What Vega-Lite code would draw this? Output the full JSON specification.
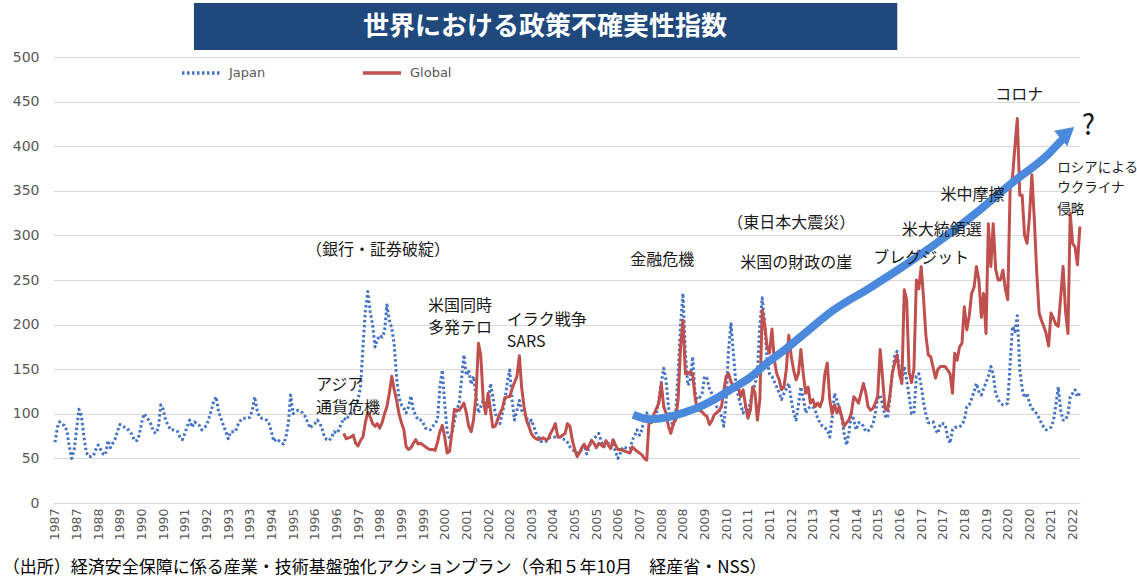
{
  "$schema": "https://vega.github.io/schema/vega-lite/v6.json",
  "width": 1027,
  "height": 446,
  "autosize": {"type": "none"},
  "padding": {"left": 53, "top": 57, "right": 57, "bottom": 79},
  "background": "white",
  "config": {
    "view": {"stroke": null},
    "text": {"font": "Noto Sans CJK JP"}
  },
  "datasets": {
    "epu": [
      {"d":"1987-01","Japan":68},{"d":"1987-02","Japan":85},{"d":"1987-03","Japan":91},{"d":"1987-04","Japan":88},{"d":"1987-05","Japan":87},{"d":"1987-06","Japan":81},{"d":"1987-07","Japan":63},{"d":"1987-08","Japan":50},{"d":"1987-09","Japan":60},{"d":"1987-10","Japan":82},{"d":"1987-11","Japan":105},{"d":"1987-12","Japan":98},
      {"d":"1988-01","Japan":75},{"d":"1988-02","Japan":57},{"d":"1988-03","Japan":52},{"d":"1988-04","Japan":52},{"d":"1988-05","Japan":53},{"d":"1988-06","Japan":60},{"d":"1988-07","Japan":65},{"d":"1988-08","Japan":60},{"d":"1988-09","Japan":55},{"d":"1988-10","Japan":54},{"d":"1988-11","Japan":70},{"d":"1988-12","Japan":62},
      {"d":"1989-01","Japan":67},{"d":"1989-02","Japan":72},{"d":"1989-03","Japan":80},{"d":"1989-04","Japan":88},{"d":"1989-05","Japan":86},{"d":"1989-06","Japan":85},{"d":"1989-07","Japan":84},{"d":"1989-08","Japan":80},{"d":"1989-09","Japan":77},{"d":"1989-10","Japan":70},{"d":"1989-11","Japan":70},{"d":"1989-12","Japan":76},
      {"d":"1990-01","Japan":90},{"d":"1990-02","Japan":100},{"d":"1990-03","Japan":97},{"d":"1990-04","Japan":93},{"d":"1990-05","Japan":88},{"d":"1990-06","Japan":80},{"d":"1990-07","Japan":78},{"d":"1990-08","Japan":84},{"d":"1990-09","Japan":110},{"d":"1990-10","Japan":105},{"d":"1990-11","Japan":92},{"d":"1990-12","Japan":88},
      {"d":"1991-01","Japan":82},{"d":"1991-02","Japan":82},{"d":"1991-03","Japan":81},{"d":"1991-04","Japan":80},{"d":"1991-05","Japan":74},{"d":"1991-06","Japan":71},{"d":"1991-07","Japan":78},{"d":"1991-08","Japan":86},{"d":"1991-09","Japan":93},{"d":"1991-10","Japan":85},{"d":"1991-11","Japan":91},{"d":"1991-12","Japan":89},
      {"d":"1992-01","Japan":87},{"d":"1992-02","Japan":82},{"d":"1992-03","Japan":84},{"d":"1992-04","Japan":87},{"d":"1992-05","Japan":95},{"d":"1992-06","Japan":104},{"d":"1992-07","Japan":114},{"d":"1992-08","Japan":119},{"d":"1992-09","Japan":102},{"d":"1992-10","Japan":95},{"d":"1992-11","Japan":87},{"d":"1992-12","Japan":80},
      {"d":"1993-01","Japan":72},{"d":"1993-02","Japan":80},{"d":"1993-03","Japan":80},{"d":"1993-04","Japan":80},{"d":"1993-05","Japan":87},{"d":"1993-06","Japan":92},{"d":"1993-07","Japan":95},{"d":"1993-08","Japan":95},{"d":"1993-09","Japan":95},{"d":"1993-10","Japan":96},{"d":"1993-11","Japan":104},{"d":"1993-12","Japan":119},
      {"d":"1994-01","Japan":104},{"d":"1994-02","Japan":96},{"d":"1994-03","Japan":95},{"d":"1994-04","Japan":94},{"d":"1994-05","Japan":93},{"d":"1994-06","Japan":89},{"d":"1994-07","Japan":80},{"d":"1994-08","Japan":69},{"d":"1994-09","Japan":72},{"d":"1994-10","Japan":70},{"d":"1994-11","Japan":68},{"d":"1994-12","Japan":66},
      {"d":"1995-01","Japan":74},{"d":"1995-02","Japan":90},{"d":"1995-03","Japan":121},{"d":"1995-04","Japan":100},{"d":"1995-05","Japan":102},{"d":"1995-06","Japan":104},{"d":"1995-07","Japan":103},{"d":"1995-08","Japan":101},{"d":"1995-09","Japan":97},{"d":"1995-10","Japan":91},{"d":"1995-11","Japan":84},{"d":"1995-12","Japan":87},
      {"d":"1996-01","Japan":89},{"d":"1996-02","Japan":93},{"d":"1996-03","Japan":90},{"d":"1996-04","Japan":84},{"d":"1996-05","Japan":74},{"d":"1996-06","Japan":71},{"d":"1996-07","Japan":70},{"d":"1996-08","Japan":74},{"d":"1996-09","Japan":80},{"d":"1996-10","Japan":78},{"d":"1996-11","Japan":82},{"d":"1996-12","Japan":89},
      {"d":"1997-01","Japan":95,"Global":78},{"d":"1997-02","Japan":93,"Global":72},{"d":"1997-03","Japan":97,"Global":73},{"d":"1997-04","Japan":100,"Global":74},{"d":"1997-05","Japan":101,"Global":76},{"d":"1997-06","Japan":108,"Global":67},{"d":"1997-07","Japan":116,"Global":64},{"d":"1997-08","Japan":130,"Global":70},{"d":"1997-09","Japan":175,"Global":74},{"d":"1997-10","Japan":215,"Global":90},{"d":"1997-11","Japan":237,"Global":102},{"d":"1997-12","Japan":215,"Global":97},
      {"d":"1998-01","Japan":200,"Global":89},{"d":"1998-02","Japan":175,"Global":86},{"d":"1998-03","Japan":183,"Global":89},{"d":"1998-04","Japan":188,"Global":84},{"d":"1998-05","Japan":186,"Global":90},{"d":"1998-06","Japan":192,"Global":100},{"d":"1998-07","Japan":222,"Global":108},{"d":"1998-08","Japan":205,"Global":123},{"d":"1998-09","Japan":196,"Global":142},{"d":"1998-10","Japan":178,"Global":127},{"d":"1998-11","Japan":140,"Global":115},{"d":"1998-12","Japan":118,"Global":100},
      {"d":"1999-01","Japan":110,"Global":90},{"d":"1999-02","Japan":106,"Global":82},{"d":"1999-03","Japan":101,"Global":63},{"d":"1999-04","Japan":108,"Global":60},{"d":"1999-05","Japan":120,"Global":62},{"d":"1999-06","Japan":104,"Global":67},{"d":"1999-07","Japan":98,"Global":71},{"d":"1999-08","Japan":93,"Global":66},{"d":"1999-09","Japan":93,"Global":67},{"d":"1999-10","Japan":90,"Global":65},{"d":"1999-11","Japan":84,"Global":63},{"d":"1999-12","Japan":82,"Global":61},
      {"d":"2000-01","Japan":82,"Global":60},{"d":"2000-02","Japan":86,"Global":60},{"d":"2000-03","Japan":89,"Global":59},{"d":"2000-04","Japan":93,"Global":68},{"d":"2000-05","Japan":130,"Global":80},{"d":"2000-06","Japan":149,"Global":87},{"d":"2000-07","Japan":112,"Global":74},{"d":"2000-08","Japan":80,"Global":56},{"d":"2000-09","Japan":72,"Global":58},{"d":"2000-10","Japan":78,"Global":80},{"d":"2000-11","Japan":92,"Global":105},{"d":"2000-12","Japan":104,"Global":104},
      {"d":"2001-01","Japan":112,"Global":104},{"d":"2001-02","Japan":140,"Global":108},{"d":"2001-03","Japan":166,"Global":112},{"d":"2001-04","Japan":143,"Global":101},{"d":"2001-05","Japan":149,"Global":86},{"d":"2001-06","Japan":133,"Global":80},{"d":"2001-07","Japan":142,"Global":93},{"d":"2001-08","Japan":120,"Global":120},{"d":"2001-09","Japan":101,"Global":179},{"d":"2001-10","Japan":108,"Global":165},{"d":"2001-11","Japan":115,"Global":115},{"d":"2001-12","Japan":110,"Global":100},
      {"d":"2002-01","Japan":108,"Global":123},{"d":"2002-02","Japan":134,"Global":104},{"d":"2002-03","Japan":120,"Global":85},{"d":"2002-04","Japan":101,"Global":86},{"d":"2002-05","Japan":93,"Global":93},{"d":"2002-06","Japan":89,"Global":101},{"d":"2002-07","Japan":101,"Global":106},{"d":"2002-08","Japan":115,"Global":118},{"d":"2002-09","Japan":135,"Global":119},{"d":"2002-10","Japan":149,"Global":119},{"d":"2002-11","Japan":115,"Global":128},{"d":"2002-12","Japan":93,"Global":135},
      {"d":"2003-01","Japan":104,"Global":142},{"d":"2003-02","Japan":115,"Global":165},{"d":"2003-03","Japan":104,"Global":130},{"d":"2003-04","Japan":101,"Global":108},{"d":"2003-05","Japan":97,"Global":93},{"d":"2003-06","Japan":88,"Global":86},{"d":"2003-07","Japan":93,"Global":78},{"d":"2003-08","Japan":86,"Global":74},{"d":"2003-09","Japan":78,"Global":72},{"d":"2003-10","Japan":74,"Global":71},{"d":"2003-11","Japan":69,"Global":72},{"d":"2003-12","Japan":69,"Global":73},
      {"d":"2004-01","Japan":69,"Global":71},{"d":"2004-02","Japan":72,"Global":72},{"d":"2004-03","Japan":74,"Global":78},{"d":"2004-04","Japan":74,"Global":83},{"d":"2004-05","Japan":74,"Global":89},{"d":"2004-06","Japan":74,"Global":74},{"d":"2004-07","Japan":74,"Global":74},{"d":"2004-08","Japan":72,"Global":76},{"d":"2004-09","Japan":71,"Global":78},{"d":"2004-10","Japan":68,"Global":89},{"d":"2004-11","Japan":63,"Global":86},{"d":"2004-12","Japan":60,"Global":71},
      {"d":"2005-01","Japan":58,"Global":60},{"d":"2005-02","Japan":56,"Global":52},{"d":"2005-03","Japan":56,"Global":56},{"d":"2005-04","Japan":60,"Global":62},{"d":"2005-05","Japan":65,"Global":66},{"d":"2005-06","Japan":55,"Global":60},{"d":"2005-07","Japan":62,"Global":64},{"d":"2005-08","Japan":70,"Global":70},{"d":"2005-09","Japan":72,"Global":67},{"d":"2005-10","Japan":75,"Global":62},{"d":"2005-11","Japan":78,"Global":67},{"d":"2005-12","Japan":70,"Global":65},
      {"d":"2006-01","Japan":63,"Global":63},{"d":"2006-02","Japan":65,"Global":70},{"d":"2006-03","Japan":67,"Global":65},{"d":"2006-04","Japan":66,"Global":61},{"d":"2006-05","Japan":65,"Global":71},{"d":"2006-06","Japan":58,"Global":65},{"d":"2006-07","Japan":50,"Global":60},{"d":"2006-08","Japan":56,"Global":60},{"d":"2006-09","Japan":63,"Global":59},{"d":"2006-10","Japan":62,"Global":58},{"d":"2006-11","Japan":61,"Global":57},{"d":"2006-12","Japan":61,"Global":56},
      {"d":"2007-01","Japan":71,"Global":63},{"d":"2007-02","Japan":76,"Global":60},{"d":"2007-03","Japan":82,"Global":58},{"d":"2007-04","Japan":76,"Global":56},{"d":"2007-05","Japan":82,"Global":54},{"d":"2007-06","Japan":97,"Global":50},{"d":"2007-07","Japan":101,"Global":48},{"d":"2007-08","Japan":93,"Global":95},{"d":"2007-09","Japan":93,"Global":90},{"d":"2007-10","Japan":93,"Global":100},{"d":"2007-11","Japan":100,"Global":106},{"d":"2007-12","Japan":116,"Global":112},
      {"d":"2008-01","Japan":135,"Global":134},{"d":"2008-02","Japan":151,"Global":108},{"d":"2008-03","Japan":138,"Global":101},{"d":"2008-04","Japan":108,"Global":86},{"d":"2008-05","Japan":93,"Global":78},{"d":"2008-06","Japan":86,"Global":89},{"d":"2008-07","Japan":100,"Global":93},{"d":"2008-08","Japan":145,"Global":116},{"d":"2008-09","Japan":200,"Global":175},{"d":"2008-10","Japan":235,"Global":205},{"d":"2008-11","Japan":168,"Global":145},{"d":"2008-12","Japan":132,"Global":145},
      {"d":"2009-01","Japan":136,"Global":147},{"d":"2009-02","Japan":164,"Global":145},{"d":"2009-03","Japan":125,"Global":120},{"d":"2009-04","Japan":116,"Global":104},{"d":"2009-05","Japan":118,"Global":104},{"d":"2009-06","Japan":123,"Global":102},{"d":"2009-07","Japan":142,"Global":99},{"d":"2009-08","Japan":140,"Global":97},{"d":"2009-09","Japan":128,"Global":88},{"d":"2009-10","Japan":123,"Global":92},{"d":"2009-11","Japan":116,"Global":99},{"d":"2009-12","Japan":108,"Global":101},
      {"d":"2010-01","Japan":104,"Global":104},{"d":"2010-02","Japan":97,"Global":108},{"d":"2010-03","Japan":86,"Global":125},{"d":"2010-04","Japan":116,"Global":142},{"d":"2010-05","Japan":172,"Global":145},{"d":"2010-06","Japan":201,"Global":136},{"d":"2010-07","Japan":168,"Global":130},{"d":"2010-08","Japan":135,"Global":127},{"d":"2010-09","Japan":120,"Global":130},{"d":"2010-10","Japan":110,"Global":119},{"d":"2010-11","Japan":101,"Global":127},{"d":"2010-12","Japan":108,"Global":110},
      {"d":"2011-01","Japan":104,"Global":95},{"d":"2011-02","Japan":112,"Global":104},{"d":"2011-03","Japan":125,"Global":130},{"d":"2011-04","Japan":133,"Global":123},{"d":"2011-05","Japan":145,"Global":93},{"d":"2011-06","Japan":200,"Global":116},{"d":"2011-07","Japan":230,"Global":216},{"d":"2011-08","Japan":200,"Global":200},{"d":"2011-09","Japan":160,"Global":175},{"d":"2011-10","Japan":145,"Global":168},{"d":"2011-11","Japan":142,"Global":195},{"d":"2011-12","Japan":136,"Global":160},
      {"d":"2012-01","Japan":130,"Global":145},{"d":"2012-02","Japan":123,"Global":138},{"d":"2012-03","Japan":116,"Global":127},{"d":"2012-04","Japan":123,"Global":130},{"d":"2012-05","Japan":128,"Global":150},{"d":"2012-06","Japan":134,"Global":188},{"d":"2012-07","Japan":116,"Global":165},{"d":"2012-08","Japan":101,"Global":149},{"d":"2012-09","Japan":93,"Global":138},{"d":"2012-10","Japan":110,"Global":145},{"d":"2012-11","Japan":130,"Global":172},{"d":"2012-12","Japan":118,"Global":145},
      {"d":"2013-01","Japan":101,"Global":123},{"d":"2013-02","Japan":106,"Global":130},{"d":"2013-03","Japan":108,"Global":112},{"d":"2013-04","Japan":108,"Global":116},{"d":"2013-05","Japan":104,"Global":108},{"d":"2013-06","Japan":95,"Global":112},{"d":"2013-07","Japan":90,"Global":108},{"d":"2013-08","Japan":86,"Global":116},{"d":"2013-09","Japan":84,"Global":145},{"d":"2013-10","Japan":82,"Global":157},{"d":"2013-11","Japan":74,"Global":116},{"d":"2013-12","Japan":95,"Global":100},
      {"d":"2014-01","Japan":123,"Global":110},{"d":"2014-02","Japan":115,"Global":101},{"d":"2014-03","Japan":105,"Global":108},{"d":"2014-04","Japan":97,"Global":97},{"d":"2014-05","Japan":78,"Global":86},{"d":"2014-06","Japan":65,"Global":90},{"d":"2014-07","Japan":78,"Global":93},{"d":"2014-08","Japan":101,"Global":101},{"d":"2014-09","Japan":93,"Global":119},{"d":"2014-10","Japan":82,"Global":116},{"d":"2014-11","Japan":90,"Global":112},{"d":"2014-12","Japan":90,"Global":123},
      {"d":"2015-01","Japan":86,"Global":134},{"d":"2015-02","Japan":80,"Global":123},{"d":"2015-03","Japan":81,"Global":108},{"d":"2015-04","Japan":84,"Global":104},{"d":"2015-05","Japan":88,"Global":106},{"d":"2015-06","Japan":101,"Global":112},{"d":"2015-07","Japan":117,"Global":120},{"d":"2015-08","Japan":121,"Global":172},{"d":"2015-09","Japan":110,"Global":140},{"d":"2015-10","Japan":98,"Global":106},{"d":"2015-11","Japan":95,"Global":104},{"d":"2015-12","Japan":117,"Global":120},
      {"d":"2016-01","Japan":145,"Global":145},{"d":"2016-02","Japan":165,"Global":157},{"d":"2016-03","Japan":170,"Global":166},{"d":"2016-04","Japan":150,"Global":145},{"d":"2016-05","Japan":138,"Global":134},{"d":"2016-06","Japan":153,"Global":239},{"d":"2016-07","Japan":138,"Global":228},{"d":"2016-08","Japan":120,"Global":147},{"d":"2016-09","Japan":100,"Global":135},{"d":"2016-10","Japan":100,"Global":150},{"d":"2016-11","Japan":142,"Global":250},{"d":"2016-12","Japan":145,"Global":240},
      {"d":"2017-01","Japan":132,"Global":265},{"d":"2017-02","Japan":112,"Global":228},{"d":"2017-03","Japan":100,"Global":188},{"d":"2017-04","Japan":90,"Global":166},{"d":"2017-05","Japan":90,"Global":164},{"d":"2017-06","Japan":91,"Global":152},{"d":"2017-07","Japan":82,"Global":140},{"d":"2017-08","Japan":78,"Global":150},{"d":"2017-09","Japan":89,"Global":153},{"d":"2017-10","Japan":89,"Global":153},{"d":"2017-11","Japan":88,"Global":153},{"d":"2017-12","Japan":74,"Global":149},
      {"d":"2018-01","Japan":67,"Global":145},{"d":"2018-02","Japan":82,"Global":123},{"d":"2018-03","Japan":85,"Global":168},{"d":"2018-04","Japan":85,"Global":160},{"d":"2018-05","Japan":85,"Global":175},{"d":"2018-06","Japan":88,"Global":179},{"d":"2018-07","Japan":93,"Global":220},{"d":"2018-08","Japan":108,"Global":194},{"d":"2018-09","Japan":110,"Global":210},{"d":"2018-10","Japan":117,"Global":235},{"d":"2018-11","Japan":125,"Global":242},{"d":"2018-12","Japan":134,"Global":265},
      {"d":"2019-01","Japan":125,"Global":250},{"d":"2019-02","Japan":121,"Global":208},{"d":"2019-03","Japan":128,"Global":235},{"d":"2019-04","Japan":135,"Global":190},{"d":"2019-05","Japan":142,"Global":313},{"d":"2019-06","Japan":153,"Global":265},{"d":"2019-07","Japan":145,"Global":313},{"d":"2019-08","Japan":123,"Global":262},{"d":"2019-09","Japan":116,"Global":250},{"d":"2019-10","Japan":112,"Global":250},{"d":"2019-11","Japan":110,"Global":261},{"d":"2019-12","Japan":110,"Global":240},
      {"d":"2020-01","Japan":112,"Global":228},{"d":"2020-02","Japan":157,"Global":355},{"d":"2020-03","Japan":198,"Global":365},{"d":"2020-04","Japan":192,"Global":400},{"d":"2020-05","Japan":210,"Global":431},{"d":"2020-06","Japan":150,"Global":345},{"d":"2020-07","Japan":128,"Global":345},{"d":"2020-08","Japan":118,"Global":300},{"d":"2020-09","Japan":123,"Global":291},{"d":"2020-10","Japan":112,"Global":320},{"d":"2020-11","Japan":106,"Global":368},{"d":"2020-12","Japan":104,"Global":320},
      {"d":"2021-01","Japan":100,"Global":260},{"d":"2021-02","Japan":95,"Global":213},{"d":"2021-03","Japan":90,"Global":205},{"d":"2021-04","Japan":85,"Global":198},{"d":"2021-05","Japan":82,"Global":190},{"d":"2021-06","Japan":83,"Global":176},{"d":"2021-07","Japan":85,"Global":213},{"d":"2021-08","Japan":92,"Global":207},{"d":"2021-09","Japan":110,"Global":200},{"d":"2021-10","Japan":130,"Global":198},{"d":"2021-11","Japan":104,"Global":231},{"d":"2021-12","Japan":93,"Global":265},
      {"d":"2022-01","Japan":93,"Global":215},{"d":"2022-02","Japan":100,"Global":190},{"d":"2022-03","Japan":119,"Global":325},{"d":"2022-04","Japan":123,"Global":291},{"d":"2022-05","Japan":127,"Global":287},{"d":"2022-06","Japan":119,"Global":267},{"d":"2022-07","Japan":123,"Global":310}
    ],
    "arrow": [
      {"d":"2007-01-10","v":99},{"d":"2007-08-10","v":94},{"d":"2008-03-15","v":96},{"d":"2008-10-05","v":101},{"d":"2009-05-05","v":108},{"d":"2009-12-10","v":118},{"d":"2010-07-01","v":129},{"d":"2011-02-01","v":141},{"d":"2011-09-01","v":157},{"d":"2012-04-01","v":171},{"d":"2012-11-20","v":188},{"d":"2013-12-15","v":216},{"d":"2015-03-20","v":241},{"d":"2016-04-10","v":263},{"d":"2017-11-25","v":300},{"d":"2019-01-18","v":329},{"d":"2020-03-10","v":360},{"d":"2021-05-15","v":390},{"d":"2021-11-25","v":408}
    ],
    "head": [{"d":"2022-01-25","v":415}],
    "box": [{"d":"1991-10-25","d2":"2016-03-04","v":507.8,"v2":560.5}],
    "ttl": [{"d":"2003-12-22","v":533.6,"t":"世界における政策不確実性指数"}],
    "notesL": [
      {"d":"1996-01-16","v":132.3,"t":"アジア"},
      {"d":"1996-01-16","v":106.5,"t":"通貨危機"},
      {"d":"1999-12-04","v":220.9,"t":"米国同時"},
      {"d":"1999-12-04","v":196.2,"t":"多発テロ"},
      {"d":"2002-08-25","v":205.2,"t":"イラク戦争"},
      {"d":"2002-08-25","v":180.8,"t":"SARS"},
      {"d":"2006-12-04","v":272.4,"t":"金融危機"},
      {"d":"2010-09-25","v":268.7,"t":"米国の財政の崖"},
      {"d":"2015-05-04","v":275.2,"t":"ブレグジット"},
      {"d":"2016-05-01","v":306,"t":"米大統領選"},
      {"d":"2017-09-01","v":345.3,"t":"米中摩擦"},
      {"d":"2019-07-28","v":457.4,"t":"コロナ"}
    ],
    "notesC": [
      {"d":"1998-03-10","v":283.6,"t":"（銀行・証券破綻）"},
      {"d":"2012-07-01","v":313.6,"t":"（東日本大震災）"}
    ],
    "q": [{"d":"2022-10-16","v":421.9,"t":"?"}],
    "russia": [
      {"d":"2021-09-19","v":375.2,"t":"ロシアによる"},
      {"d":"2021-09-19","v":352.8,"t":"ウクライナ"},
      {"d":"2021-09-19","v":328.5,"t":"侵略"}
    ],
    "foot": [{"d":"1985-03-12","v":-72.9,"t":"（出所）経済安全保障に係る産業・技術基盤強化アクションプラン（令和５年10月　経産省・NSS）"}]
  },
  "encoding": {
    "x": {
      "field": "d", "type": "temporal",
      "scale": {"domain": [{"year":1986,"month":12,"date":7},{"year":2022,"month":7,"date":3}]},
      "axis": {
        "title": null, "format": "%Y", "labelAngle": 270, "grid": false, "ticks": false, "domain": false,
        "labelFont": "DejaVu Sans", "labelFontSize": 12.5, "labelColor": "#595959", "labelPadding": 5,
        "labelOverlap": false, "labelFlush": false, "labelBound": false,
        "values": [
          {"year":1987,"month":1},{"year":1987,"month":10},{"year":1988,"month":7},{"year":1989,"month":4},
          {"year":1990,"month":1},{"year":1990,"month":10},{"year":1991,"month":7},{"year":1992,"month":4},
          {"year":1993,"month":1},{"year":1993,"month":10},{"year":1994,"month":7},{"year":1995,"month":4},
          {"year":1996,"month":1},{"year":1996,"month":10},{"year":1997,"month":7},{"year":1998,"month":4},
          {"year":1999,"month":1},{"year":1999,"month":10},{"year":2000,"month":7},{"year":2001,"month":4},
          {"year":2002,"month":1},{"year":2002,"month":10},{"year":2003,"month":7},{"year":2004,"month":4},
          {"year":2005,"month":1},{"year":2005,"month":10},{"year":2006,"month":7},{"year":2007,"month":4},
          {"year":2008,"month":1},{"year":2008,"month":10},{"year":2009,"month":7},{"year":2010,"month":4},
          {"year":2011,"month":1},{"year":2011,"month":10},{"year":2012,"month":7},{"year":2013,"month":4},
          {"year":2014,"month":1},{"year":2014,"month":10},{"year":2015,"month":7},{"year":2016,"month":4},
          {"year":2017,"month":1},{"year":2017,"month":10},{"year":2018,"month":7},{"year":2019,"month":4},
          {"year":2020,"month":1},{"year":2020,"month":10},{"year":2021,"month":7},{"year":2022,"month":4}
        ]
      }
    },
    "y": {
      "field": "v", "type": "quantitative",
      "scale": {"domain": [0, 500], "nice": false, "zero": false},
      "axis": {
        "title": null, "values": [0,50,100,150,200,250,300,350,400,450,500],
        "grid": true, "gridColor": "#D9D9D9", "gridWidth": 1, "domain": false, "ticks": false,
        "labelFont": "DejaVu Sans", "labelFontSize": 14, "labelColor": "#595959", "labelPadding": 14
      }
    }
  },
  "layer": [
    {
      "data": {"name": "box", "format": {"parse": {"d": "date:'%Y-%m-%d'", "d2": "date:'%Y-%m-%d'"}}},
      "mark": {"type": "rect", "color": "#1F497D"},
      "encoding": {"x2": {"field": "d2"}, "y2": {"field": "v2"}}
    },
    {
      "data": {"name": "ttl", "format": {"parse": {"d": "date:'%Y-%m-%d'"}}},
      "mark": {"type": "text", "color": "white", "fontSize": 26, "fontWeight": "bold", "align": "center", "baseline": "middle"},
      "encoding": {"text": {"field": "t"}}
    },
    {
      "data": {"name": "epu", "format": {"parse": {"d": "date:'%Y-%m'"}}},
      "transform": [{"fold": ["Japan", "Global"], "as": ["s", "v"]}],
      "mark": {"type": "line", "strokeWidth": 3, "strokeCap": "butt", "strokeJoin": "round"},
      "encoding": {
        "color": {
          "field": "s", "type": "nominal",
          "scale": {"domain": ["Japan", "Global"], "range": ["#4472C4", "#C0504D"]},
          "legend": {
            "title": null, "orient": "none", "legendX": 127, "legendY": -5, "direction": "horizontal",
            "symbolType": "stroke", "symbolSize": 1444, "symbolStrokeWidth": 3.5,
            "labelFont": "DejaVu Sans", "labelFontSize": 13, "labelColor": "#595959", "labelOffset": 7,
            "columnPadding": 90, "padding": 0
          }
        },
        "strokeDash": {
          "field": "s", "type": "nominal",
          "scale": {"domain": ["Japan", "Global"], "range": [[2.5, 2.5], [1, 0]]},
          "legend": {
            "title": null, "orient": "none", "legendX": 127, "legendY": -5, "direction": "horizontal",
            "symbolType": "stroke", "symbolSize": 1444, "symbolStrokeWidth": 3.5,
            "labelFont": "DejaVu Sans", "labelFontSize": 13, "labelColor": "#595959", "labelOffset": 7,
            "columnPadding": 90, "padding": 0
          }
        }
      }
    },
    {
      "data": {"name": "arrow", "format": {"parse": {"d": "date:'%Y-%m-%d'"}}},
      "mark": {"type": "line", "color": "#4A89DC", "strokeWidth": 8, "interpolate": "monotone", "strokeCap": "butt"},
      "encoding": {}
    },
    {
      "data": {"name": "head", "format": {"parse": {"d": "date:'%Y-%m-%d'"}}},
      "mark": {"type": "point", "shape": "triangle-right", "filled": true, "color": "#4A89DC", "opacity": 1, "size": 420, "angle": 320},
      "encoding": {}
    },
    {
      "data": {"name": "notesL", "format": {"parse": {"d": "date:'%Y-%m-%d'"}}},
      "mark": {"type": "text", "align": "left", "baseline": "middle", "fontSize": 16, "color": "#1A1A1A"},
      "encoding": {"text": {"field": "t"}}
    },
    {
      "data": {"name": "notesC", "format": {"parse": {"d": "date:'%Y-%m-%d'"}}},
      "mark": {"type": "text", "align": "center", "baseline": "middle", "fontSize": 16, "color": "#1A1A1A"},
      "encoding": {"text": {"field": "t"}}
    },
    {
      "data": {"name": "q", "format": {"parse": {"d": "date:'%Y-%m-%d'"}}},
      "mark": {"type": "text", "align": "center", "baseline": "middle", "fontSize": 28, "color": "#1A1A1A"},
      "encoding": {"text": {"field": "t"}}
    },
    {
      "data": {"name": "russia", "format": {"parse": {"d": "date:'%Y-%m-%d'"}}},
      "mark": {"type": "text", "align": "left", "baseline": "middle", "fontSize": 13.5, "color": "#1A1A1A"},
      "encoding": {"text": {"field": "t"}}
    },
    {
      "data": {"name": "foot", "format": {"parse": {"d": "date:'%Y-%m-%d'"}}},
      "mark": {"type": "text", "align": "left", "baseline": "middle", "fontSize": 17, "color": "#000000"},
      "encoding": {"text": {"field": "t"}}
    }
  ]
}
